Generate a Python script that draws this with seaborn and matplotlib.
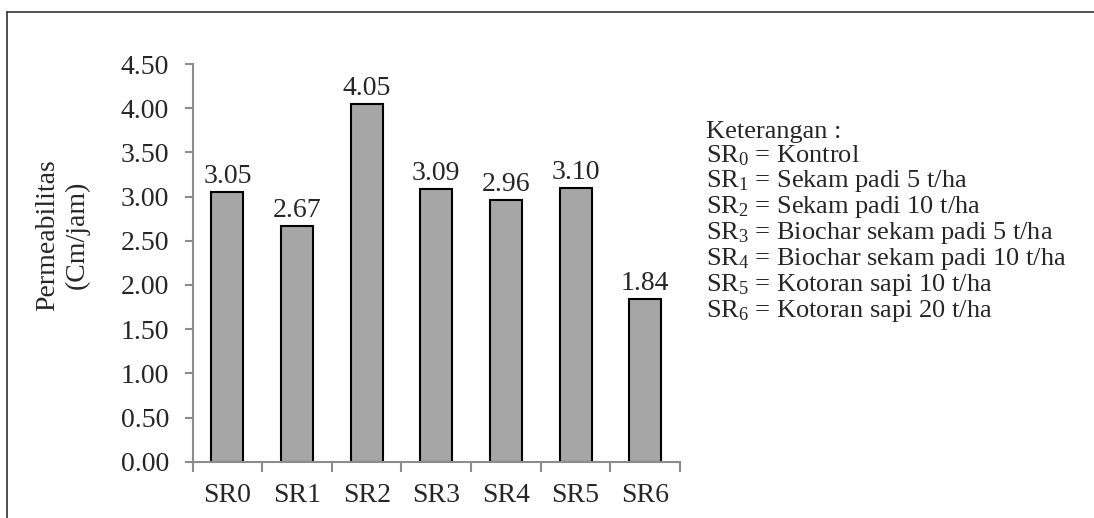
import numpy as np
import pandas as pd
import seaborn as sns
from matplotlib import pyplot as plt
from matplotlib.lines import Line2D

# data
categories = ["SR0", "SR1", "SR2", "SR3", "SR4", "SR5", "SR6"]
permeability = [3.05, 2.67, 4.05, 3.09, 2.96, 3.10, 1.84]
y_ticks = [0.0, 0.5, 1.0, 1.5, 2.0, 2.5, 3.0, 3.5, 4.0, 4.5]
legend_lines = [
    "Keterangan :",
    "SR$_0$ = Kontrol",
    "SR$_1$ = Sekam padi 5 t/ha",
    "SR$_2$ = Sekam padi 10 t/ha",
    "SR$_3$ = Biochar sekam padi 5 t/ha",
    "SR$_4$ = Biochar sekam padi 10 t/ha",
    "SR$_5$ = Kotoran sapi 10 t/ha",
    "SR$_6$ = Kotoran sapi 20 t/ha",
]

sns.set_theme(style="white")
plt.rcParams["font.family"] = ["Liberation Serif", "DejaVu Serif"]
plt.rcParams["mathtext.fontset"] = "custom"
plt.rcParams["mathtext.rm"] = "Liberation Serif"
plt.rcParams["mathtext.it"] = "Liberation Serif:italic"

df = pd.DataFrame({"perlakuan": categories, "permeabilitas": permeability})

fig = plt.figure(figsize=(10.94, 5.18), dpi=100)
ax = fig.add_axes([0.176, 0.1087, 0.4456, 0.7677])

sns.barplot(data=df, x="perlakuan", y="permeabilitas", color="#a6a6a6",
            edgecolor="black", linewidth=1.5, width=0.46, saturation=1, ax=ax)
ax.bar_label(ax.containers[0], fmt="%.2f", padding=2, fontsize=20)

ax.set_xlim(-0.5, len(categories) - 0.5)
ax.set_ylim(0, 4.5)
ax.set_yticks(y_ticks)
ax.set_yticklabels([f"{t:.2f}" for t in y_ticks])
ax.set_xlabel("")
ax.set_ylabel("")

for side in ["top", "right"]:
    ax.spines[side].set_visible(False)
for side in ["left", "bottom"]:
    ax.spines[side].set_color("#8c8c8c")
    ax.spines[side].set_linewidth(1.5)

ax.tick_params(axis="y", which="major", direction="out", length=6, width=1.5,
               color="#8c8c8c", left=True, labelsize=20, pad=11)
ax.tick_params(axis="x", which="major", length=0, labelsize=20, pad=15)
ax.set_xticks(np.arange(-0.5, len(categories), 1.0), minor=True)
ax.tick_params(axis="x", which="minor", direction="out", length=7, width=1.5,
               color="#8c8c8c", bottom=True)

fig.text(0.057, 0.546, "Permeabilitas\n(Cm/jam)", rotation=90, ha="center",
         va="center", fontsize=20, linespacing=1.2)

fig.text(0.645, 0.766, "\n".join(legend_lines), ha="left", va="top",
         fontsize=19, linespacing=1.0)

# outer frame (top and left edges visible)
fig.add_artist(Line2D([0.0064, 1.0], [0.977, 0.977], color="#333333", lw=1.2,
                      transform=fig.transFigure))
fig.add_artist(Line2D([0.0064, 0.0064], [0.0, 0.977], color="#333333", lw=1.2,
                      transform=fig.transFigure))

fig.savefig("out.png", dpi=100)
